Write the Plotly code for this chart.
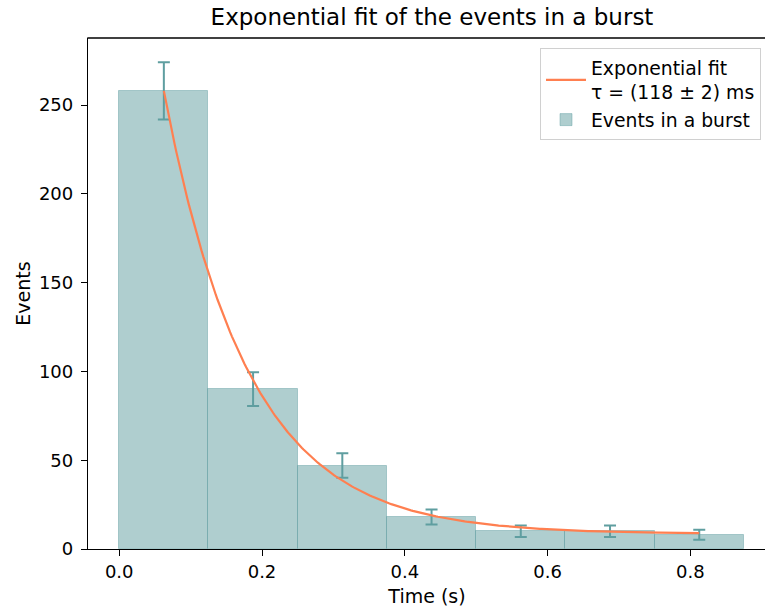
import numpy as np
import plotly.graph_objects as go

# ---- data ----
bin_left = [0.0, 0.125, 0.25, 0.375, 0.5, 0.625, 0.75]
bin_width = 0.125
counts = [258, 90, 47, 18, 10, 10, 8]
count_err = [16.1, 9.5, 6.9, 4.2, 3.2, 3.2, 2.8]

# exponential fit parameters: N(t) = amplitude * exp(-t / tau) + offset
fit_amplitude = 423.8
fit_tau = 0.118
fit_offset = 8.5

x_ticks = [0.0, 0.2, 0.4, 0.6, 0.8]
x_tick_labels = ["0.0", "0.2", "0.4", "0.6", "0.8"]
y_ticks = [0, 50, 100, 150, 200, 250]
y_tick_labels = ["0", "50", "100", "150", "200", "250"]

title_text = "Exponential fit of the events in a burst"
fit_label = "Exponential fit<br>τ = (118 ± 2) ms"
bar_label = "Events in a burst"

# ---- derived ----
centers = [l + bin_width / 2 for l in bin_left]
t_fit = np.linspace(centers[0], centers[-1], 300)
y_fit = fit_amplitude * np.exp(-t_fit / fit_tau) + fit_offset

FONT = "DejaVu Sans"
CADET = "rgb(95,158,160)"

L, R, T, B = 88, 0, 38, 58
W, H = 766, 607
pw, ph = W - L - R, H - T - B

fig = go.Figure()
fig.add_trace(go.Bar(
    x=centers, y=counts, width=bin_width,
    marker=dict(color="rgba(95,158,160,0.5)",
                line=dict(color="rgba(95,158,160,0.45)", width=1)),
    name=bar_label, legendrank=2,
))
fig.add_trace(go.Scatter(
    x=centers, y=counts, mode="markers",
    marker=dict(size=1, color="rgba(0,0,0,0)"),
    error_y=dict(type="data", array=count_err, visible=True,
                 color=CADET, thickness=2, width=6),
    showlegend=False, hoverinfo="skip",
))
fig.add_trace(go.Scatter(
    x=t_fit, y=y_fit, mode="lines",
    line=dict(color="coral", width=2.2),
    name=fit_label, legendrank=1,
))

# top spine (no right spine visible in the reference)
fig.add_shape(type="line", xref="paper", yref="paper",
              x0=-0.001, x1=1.01, y0=1, y1=1,
              line=dict(color="black", width=1.3), layer="above")

fig.update_layout(
    width=W, height=H,
    margin=dict(l=L, r=R, t=T, b=B, autoexpand=False),
    paper_bgcolor="white", plot_bgcolor="white",
    font=dict(family=FONT, size=18, color="black"),
    title=dict(text=title_text, x=432 / W, xanchor="center",
               y=1 - 17 / H, yanchor="middle",
               font=dict(family=FONT, size=23, color="black")),
    showlegend=True,
    legend=dict(x=(761 - L) / pw, xanchor="right",
                y=(H - B - 48) / ph, yanchor="top",
                bgcolor="rgba(255,255,255,0.8)", bordercolor="#d0d0d0",
                borderwidth=1, font=dict(family=FONT, size=18.8),
                itemwidth=40, tracegroupgap=0),
    bargap=0,
)
fig.update_xaxes(
    range=[-0.04375, 0.906], tickvals=x_ticks, ticktext=x_tick_labels,
    ticks="outside", ticklen=6, tickwidth=1.3, tickcolor="black",
    showline=True, linecolor="black", linewidth=1.3, mirror=False,
    showgrid=False, zeroline=False, automargin=False,
    title=dict(text="Time (s)", font=dict(family=FONT, size=19), standoff=9),
)
fig.update_yaxes(
    range=[0, 287.8], tickvals=y_ticks, ticktext=y_tick_labels,
    ticks="outside", ticklen=6, tickwidth=1.3, tickcolor="black",
    ticklabelstandoff=4,
    showline=True, linecolor="black", linewidth=1.3, mirror=False,
    showgrid=False, zeroline=False, automargin=False,
    title=dict(text="Events", font=dict(family=FONT, size=19), standoff=3),
)

fig.write_html("out.html",
               config={"displayModeBar": False},
               post_script="document.body.style.margin='0';"
                           "document.body.style.overflow='hidden';")
